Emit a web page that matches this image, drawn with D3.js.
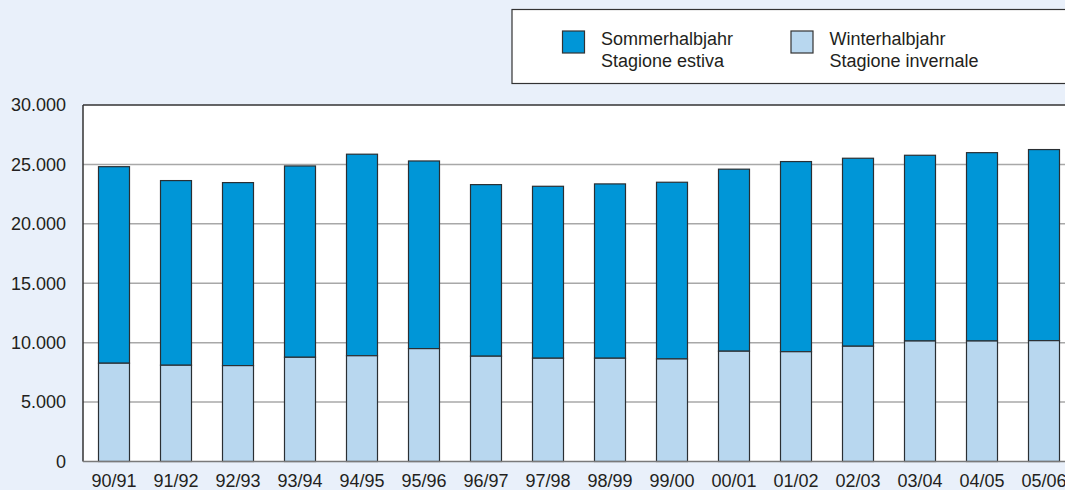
<!DOCTYPE html>
<html>
<head>
<meta charset="utf-8">
<script src="https://cdn.jsdelivr.net/npm/d3@7"></script>
<style>
  html, body { margin: 0; padding: 0; background: #e9f0fa; overflow: hidden; }
  svg { display: block; font-family: "Liberation Sans", Arial, sans-serif; }
</style>
</head>
<body>
<svg id="chart" width="1065" height="490"></svg>
<script>
// seasons (Winter = lower part, Sommer = upper part of each bar)
var seasons = ['90/91','91/92','92/93','93/94','94/95','95/96','96/97','97/98',
               '98/99','99/00','00/01','01/02','02/03','03/04','04/05','05/06'];
var winter = [8270, 8100, 8070, 8770, 8900, 9500, 8860, 8690,
              8690, 8630, 9280, 9240, 9700, 10140, 10140, 10170];
var total  = [24810, 23640, 23470, 24870, 25860, 25290, 23300, 23160,
              23360, 23500, 24600, 25240, 25520, 25770, 25990, 26250];
var summer = total.map((t, i) => t - winter[i]);
var yTicks = [0, 5000, 10000, 15000, 20000, 25000, 30000];
var legendLabels = [['Sommerhalbjahr', 'Stagione estiva'], ['Winterhalbjahr', 'Stagione invernale']];

var colSummer = '#0096d7', colWinter = '#b8d7ef';
var margin = {left: 83, top: 105, right: -10, bottom: 28};
var W = 1065, H = 490;
var svg = d3.select('#chart');

var x = d3.scaleBand().domain(seasons).range([margin.left, 1075])
  .paddingInner(0.5).paddingOuter(0.25);
var y = d3.scaleLinear().domain([0, 30000]).range([461.5, margin.top]);

var fmt = d => d === 0 ? '0' : d3.format(',')(d).replace(/,/g, '.');

// plot background
svg.append('rect').attr('x', margin.left).attr('y', y(30000))
  .attr('width', 1075 - margin.left).attr('height', y(0) - y(30000))
  .attr('fill', '#fff');

// gridlines
svg.append('g').selectAll('line').data(yTicks.filter(d => d > 0 && d < 30000)).enter()
  .append('line')
  .attr('x1', margin.left).attr('x2', 1075)
  .attr('y1', d => y(d)).attr('y2', d => y(d))
  .attr('stroke', '#a8a8a8').attr('stroke-width', 1.5);

// bars
var rows = seasons.map((s, i) => ({s: s, w: winter[i], t: total[i], su: summer[i]}));
var g = svg.append('g');
g.selectAll('.su').data(rows).enter().append('rect')
  .attr('x', d => x(d.s)).attr('width', x.bandwidth())
  .attr('y', d => y(d.t)).attr('height', d => y(d.w) - y(d.t))
  .attr('fill', colSummer).attr('stroke', '#2a2f33').attr('stroke-width', 1.2);
g.selectAll('.wi').data(rows).enter().append('rect')
  .attr('x', d => x(d.s)).attr('width', x.bandwidth())
  .attr('y', d => y(d.w)).attr('height', d => y(0) - y(d.w))
  .attr('fill', colWinter).attr('stroke', '#2a2f33').attr('stroke-width', 1.2);

// frame: left + top dark, bottom grey
svg.append('line').attr('x1', margin.left).attr('x2', margin.left)
  .attr('y1', y(30000)).attr('y2', y(0)).attr('stroke', '#333').attr('stroke-width', 1.5);
svg.append('line').attr('x1', margin.left).attr('x2', 1075)
  .attr('y1', y(30000)).attr('y2', y(30000)).attr('stroke', '#333').attr('stroke-width', 1.5);
svg.append('line').attr('x1', margin.left).attr('x2', 1075)
  .attr('y1', y(0)).attr('y2', y(0)).attr('stroke', '#7a7a7a').attr('stroke-width', 1.5);

// y axis labels
var yAxis = d3.axisLeft(y).tickValues(yTicks).tickFormat(fmt).tickSize(0).tickPadding(17);
var ya = svg.append('g').attr('transform', `translate(${margin.left},0)`).call(yAxis);
ya.select('.domain').remove();
ya.selectAll('text').attr('font-size', 18).attr('fill', '#231f20')
  .attr('font-family', '"Liberation Sans", Arial, sans-serif');

// x axis labels
var xAxis = d3.axisBottom(x).tickSize(0).tickPadding(13);
var xa = svg.append('g').attr('transform', `translate(0,${y(0)})`).call(xAxis);
xa.select('.domain').remove();
xa.selectAll('text').attr('font-size', 18).attr('fill', '#231f20')
  .attr('font-family', '"Liberation Sans", Arial, sans-serif');

// legend
var lg = svg.append('g');
lg.append('rect').attr('x', 512).attr('y', 9.5).attr('width', 600).attr('height', 74)
  .attr('fill', '#fff').attr('stroke', '#333').attr('stroke-width', 1.2);
var items = [{c: colSummer, l: legendLabels[0], sx: 562.5, tx: 601},
             {c: colWinter, l: legendLabels[1], sx: 791, tx: 829.5}];
items.forEach(function(it) {
  lg.append('rect').attr('x', it.sx).attr('y', 31).attr('width', 22).attr('height', 22)
    .attr('fill', it.c).attr('stroke', '#333').attr('stroke-width', 1.2);
  var t = lg.append('text').attr('x', it.tx).attr('y', 45).attr('font-size', 18).attr('fill', '#231f20');
  t.append('tspan').attr('x', it.tx).attr('y', 45).text(it.l[0]);
  t.append('tspan').attr('x', it.tx).attr('y', 66.5).text(it.l[1]);
});
</script>
</body>
</html>
